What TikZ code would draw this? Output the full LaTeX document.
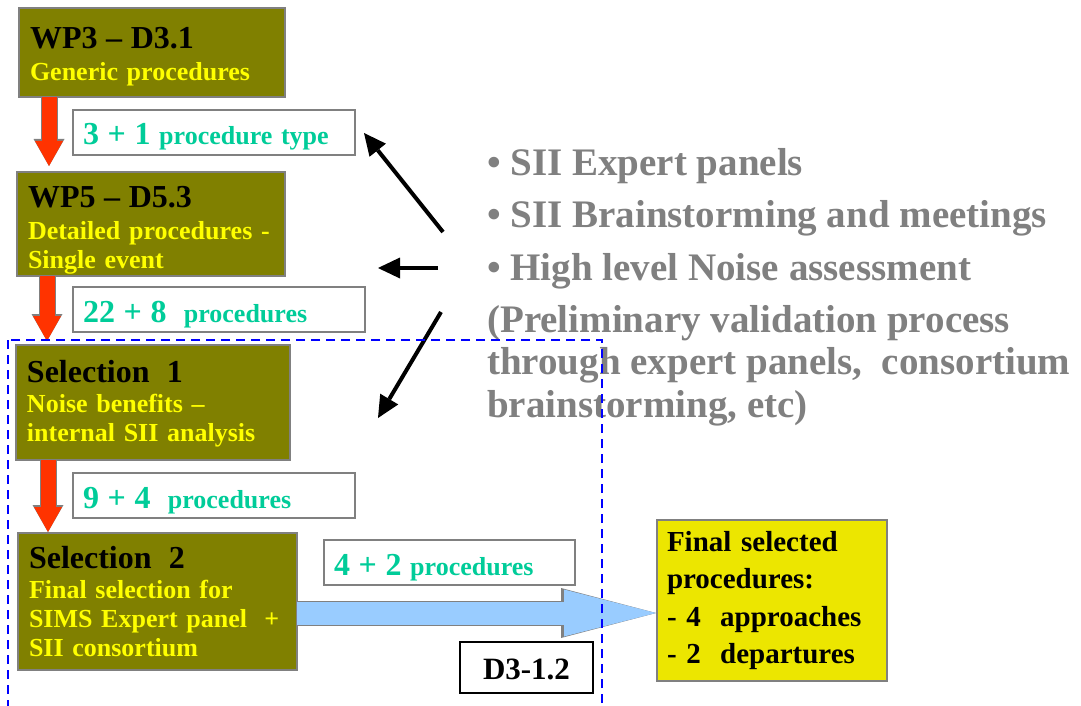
\documentclass[tikz,border=0pt]{standalone}
\usepackage{fontspec}
\setmainfont{Liberation Serif}
\usetikzlibrary{positioning,shapes,arrows.meta,calc}

\definecolor{olivefill}{RGB}{128,128,0}
\definecolor{textyellow}{RGB}{255,255,0}
\definecolor{tealtext}{RGB}{0,204,153}
\definecolor{arrowred}{RGB}{255,51,0}
\definecolor{flowblue}{RGB}{153,204,255}
\definecolor{finalfill}{RGB}{236,230,0}
\definecolor{notegray}{RGB}{128,128,128}
\definecolor{edgegray}{RGB}{128,128,128}

\newcommand{\stagetitle}[2][21pt]{{\color{black}\fontsize{32}{29}\selectfont\rule{0pt}{#1}#2}}
\newcommand{\bignum}[1]{{\fontsize{32}{29}\selectfont #1}}

\begin{document}
\begin{tikzpicture}[x=1pt,y=-1pt]
\tikzset{
    stage/.style={rectangle, draw=edgegray, line width=1.2pt, fill=olivefill, anchor=north west, align=left, inner xsep=11pt, inner ysep=0pt, outer sep=0pt, text=textyellow, font=\fontsize{26}{29}\selectfont\bfseries},
    count/.style={rectangle, draw=edgegray, line width=1.2pt, fill=white, anchor=base west, align=left, inner xsep=10pt, inner ysep=0pt, outer sep=0pt, text height=35pt, text depth=10pt, text=tealtext, font=\fontsize{26}{29}\selectfont\bfseries},
    finalbox/.style={rectangle, draw=edgegray, line width=1.2pt, fill=finalfill, anchor=north west, align=left, inner xsep=10pt, inner ysep=0pt, outer sep=0pt, font=\fontsize{29}{37.5}\selectfont\bfseries},
    docbox/.style={rectangle, draw=black, line width=1.3pt, fill=white, anchor=base, inner ysep=0pt, outer sep=0pt, text height=37pt, text depth=14pt, font=\fontsize{31}{34}\selectfont\bfseries},
    note/.style={anchor=north west, align=left, inner sep=0pt, text=notegray, font=\fontsize{39}{52.5}\selectfont\bfseries},
    redflow/.style={draw=arrowred, line width=15pt, -{Triangle[length=25pt,width=28pt,line width=0pt]}, preaction={draw=edgegray, line width=17pt, -{Triangle[length=27pt,width=31pt,line width=0pt]}}},
    blueflow/.style={draw=flowblue, line width=23pt, -{Triangle[length=92pt,width=47pt,line width=0pt]}, preaction={draw=edgegray, line width=25pt, -{Triangle[length=95pt,width=50pt,line width=0pt]}}},
    pointer/.style={draw=black, line width=4pt, -{Triangle[length=22pt,width=21pt,line width=0pt]}},
    frame/.style={draw=blue, line width=2.6pt, dash pattern=on 9pt off 6pt}
}
\useasboundingbox (0,0) rectangle (1081,706);

% stages
\node[stage, minimum width=266pt, minimum height=89pt, text width=244pt] (wp3) at (19,8) {\stagetitle[29pt]{WP3 – D3.1}\\[3pt]Generic procedures};
\node[stage, minimum width=268pt, minimum height=104pt, text width=246pt] (wp5) at (17,172) {\stagetitle[33pt]{WP5 – D5.3}\\[3pt]Detailed procedures -\\Single event};
\node[stage, minimum width=274pt, minimum height=115pt, text width=252pt] (sel1) at (16,345) {\stagetitle[25pt]{Selection\ \ 1}\\[1pt]Noise benefits –\\internal SII analysis};
\node[stage, minimum width=279pt, minimum height=137pt, text width=257pt] (sel2) at (18,533) {\stagetitle[23pt]{Selection\ \ 2}\\[1pt]Final selection for\\SIMS Expert panel\ \ +\\SII consortium};

% counts
\node[count, text width=262pt] (c1) at (73,145) {\bignum{3 + 1} procedure type};
\node[count, text width=272pt] (c2) at (73,322) {\bignum{22 + 8}\ \ procedures};
\node[count, text width=262pt] (c3) at (73,508) {\bignum{9 + 4}\ \ procedures};
\node[count, text width=231pt] (c4) at (324,575) {\bignum{4 + 2} procedures};

\node[finalbox, minimum width=230pt, minimum height=161pt, text width=210pt] (final) at (657,520) {Final selected\\procedures:\\- 4\ \ approaches\\- 2\ \ departures};
\node[docbox, minimum width=133pt] (doc) at (526.5,679) {D3-1.2};

% inputs
\node[note] (panels) at (487,148) {• SII Expert panels\\• SII Brainstorming and meetings\\• High level Noise assessment};
\node[note, font=\fontsize{39}{42.5}\selectfont\bfseries] (remark) at (487,305) {(Preliminary validation process\\through expert panels,\ \ consortium\\brainstorming, etc)};

% flow
\coordinate (drop1) at ($(wp3.south west)+(30,0)$);
\coordinate (drop2) at ($(wp5.south west)+(30,0)$);
\coordinate (drop3) at ($(sel1.south west)+(32,0)$);
\draw[redflow, shorten >=6pt] (drop1) -- (drop1 |- wp5.north);
\draw[redflow, shorten >=4pt] (drop2) -- (drop2 |- sel1.north);
\draw[redflow, shorten >=1pt] (drop3) -- (drop3 |- sel2.north);

\coordinate (out) at ($(sel2.south east)+(0,-57)$);
\draw[blueflow, shorten >=1pt] (out) -- (out -| final.west);

\coordinate (src1) at (443,232);
\coordinate (src2) at (438,268);
\coordinate (src3) at (441,312);
\coordinate (dst1) at (364,133);
\coordinate (dst2) at (378,268);
\coordinate (dst3) at (378,418);
\draw[pointer] (src1) -- (dst1);
\draw[pointer] (src2) -- (dst2);
\draw[pointer] (src3) -- (dst3);

\draw[frame] (8,340) rectangle (602,712);
\end{tikzpicture}
\end{document}
